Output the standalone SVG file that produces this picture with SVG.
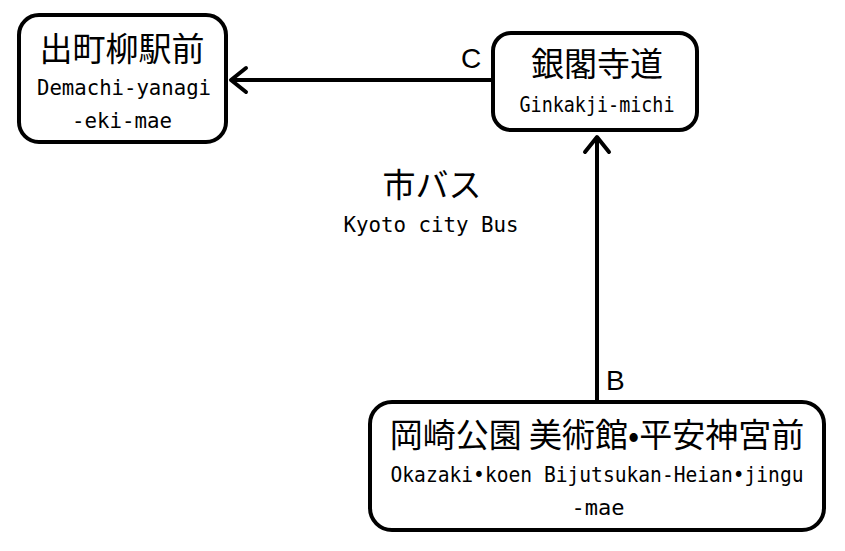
<svg xmlns="http://www.w3.org/2000/svg" width="845" height="551" viewBox="0 0 845 551">
<style>
.box{fill:#fff;stroke:#000;stroke-width:4}
.jp{font-family:"Noto Sans CJK JP","Noto Sans CJK SC",sans-serif;font-size:33px;text-anchor:middle;fill:#000}
.en{font-family:"DejaVu Sans Mono",monospace;font-size:21px;text-anchor:middle;fill:#000}
.lbl{font-family:"Liberation Sans",sans-serif;font-size:28px;fill:#000}
.edge{stroke:#000;stroke-width:4;fill:none}
.head{stroke:#000;stroke-width:4;fill:none;stroke-linecap:round;stroke-linejoin:round}
</style>
<rect width="845" height="551" fill="#fff"/>
<g id="connectors">
<line class="edge" x1="492" y1="80" x2="231" y2="80"/>
<polyline class="head" points="246,68 231,80 246,92"/>
<line class="edge" x1="597" y1="402" x2="597" y2="137"/>
<polyline class="head" points="585,152 597,137 609,152"/>
<text class="lbl" x="461" y="68">C</text>
<text class="lbl" x="606" y="390">B</text>
</g>
<g id="demachi">
<rect class="box" x="19" y="15" width="207" height="127" rx="20"/>
<text class="jp" x="122" y="61">出町柳駅前</text>
<text class="en" x="124" y="95" textLength="174" lengthAdjust="spacingAndGlyphs">Demachi-yanagi</text>
<text class="en" x="122" y="128" textLength="100" lengthAdjust="spacingAndGlyphs">-eki-mae</text>
</g>
<g id="ginkakuji">
<rect class="box" x="493" y="33" width="204" height="97" rx="18"/>
<text class="jp" x="597" y="76">銀閣寺道</text>
<text class="en" x="597" y="112" textLength="155" lengthAdjust="spacingAndGlyphs">Ginkakji-michi</text>
</g>
<g id="okazaki">
<rect class="box" x="370" y="402" width="454" height="128" rx="22"/>
<text class="jp" x="597" y="447">岡崎公園 美術館•平安神宮前</text>
<text class="en" x="597" y="482" textLength="413" lengthAdjust="spacingAndGlyphs">Okazaki•koen Bijutsukan-Heian•jingu</text>
<text class="en" x="598" y="515" textLength="53" lengthAdjust="spacingAndGlyphs">-mae</text>
</g>
<g id="citybus">
<text class="jp" x="432" y="197">市バス</text>
<text class="en" x="431" y="232" textLength="175" lengthAdjust="spacingAndGlyphs">Kyoto city Bus</text>
</g>
</svg>
